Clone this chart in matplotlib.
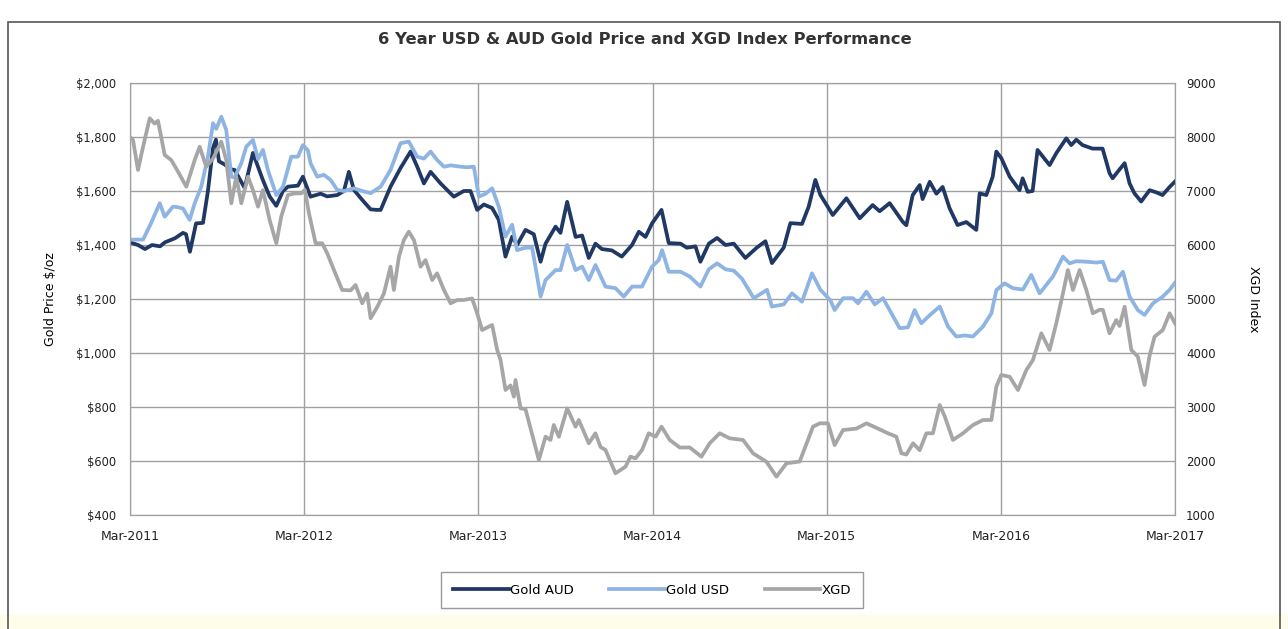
import matplotlib
matplotlib.use("Agg")
import matplotlib.pyplot as plt
from matplotlib.patches import Rectangle

# months after Mar-2011
aud_m = [0.0, 0.55, 1.03, 1.52, 2.07, 2.41, 3.10, 3.65, 3.86, 4.13, 4.55, 5.03, 5.37, 5.72, 5.92,
         6.13, 6.47, 6.98, 7.21, 7.90, 8.47, 8.82, 9.16, 9.62, 10.08, 10.54, 10.88, 11.57, 11.91,
         12.44, 13.13, 13.59, 14.28, 14.74, 15.08, 15.43, 16.00, 16.58, 17.03, 17.27, 17.95, 18.64,
         19.33, 19.79, 20.25, 20.71, 21.40, 22.31, 23.00, 23.46, 23.92, 24.38, 24.95, 25.41, 25.87,
         26.33, 26.67, 27.25, 27.82, 28.29, 28.63, 29.32, 29.66, 30.12, 30.70, 31.15, 31.61, 32.07,
         32.51, 33.20, 33.88, 34.59, 35.06, 35.52, 35.97, 36.62, 37.12, 37.93, 38.36, 38.96, 39.30,
         39.88, 40.45, 41.03, 41.60, 42.40, 43.18, 43.78, 44.23, 45.04, 45.50, 46.30, 46.76, 47.22,
         47.57, 48.00, 48.42, 49.36, 50.28, 51.17, 51.65, 52.34, 53.24, 53.49, 53.93, 54.41, 54.61,
         55.10, 55.56, 55.99, 56.47, 57.02, 57.62, 58.31, 58.54, 59.00, 59.44, 59.69, 60.03, 60.61,
         61.29, 61.50, 61.85, 62.19, 62.53, 63.36, 63.82, 64.51, 64.85, 65.20, 65.63, 66.32, 67.01,
         67.49, 67.70, 68.18, 68.53, 68.87, 69.21, 69.67, 70.25, 70.71, 71.14, 71.63, 72.0]
aud_v = [1410, 1400, 1385, 1400, 1395, 1410, 1425, 1445, 1440, 1375, 1480, 1482, 1600, 1760, 1790,
         1710, 1700, 1680, 1678, 1611, 1741, 1690, 1640, 1580, 1545, 1600, 1616, 1620, 1653,
         1579, 1590, 1580, 1585, 1600, 1671, 1604, 1567, 1532, 1530, 1530, 1616, 1685,
         1746, 1690, 1628, 1671, 1628, 1579, 1600, 1600, 1530, 1550, 1537, 1493, 1357,
         1431, 1400, 1456, 1440, 1338, 1405, 1468, 1445, 1560, 1430, 1435, 1352, 1405,
         1385, 1380, 1357, 1400, 1449, 1430, 1480, 1530, 1407, 1405, 1390, 1395, 1338,
         1405, 1426, 1400, 1405, 1352, 1390, 1414, 1333, 1390, 1481, 1478, 1542, 1641,
         1585, 1548, 1511, 1573, 1499, 1548, 1525, 1555, 1486, 1473, 1585, 1622, 1570,
         1634, 1590, 1615, 1536, 1474, 1485, 1456, 1591, 1585, 1653, 1746, 1722, 1653,
         1603, 1647, 1597, 1600, 1752, 1696, 1740, 1795, 1770, 1790, 1770, 1757, 1757,
         1666, 1647, 1680, 1703, 1628, 1591, 1561, 1603, 1595, 1585, 1615, 1635]

usd_m = [0.0, 0.90, 1.45, 2.05, 2.39, 2.96, 3.31, 3.65, 4.11, 4.46, 4.91, 5.37, 5.72, 5.94, 6.29,
         6.63, 6.98, 7.21, 7.67, 8.01, 8.47, 8.82, 9.16, 9.50, 10.08, 10.54, 11.11, 11.57, 11.91,
         12.26, 12.44, 12.90, 13.36, 13.82, 14.28, 14.74, 15.43, 16.00, 16.58, 17.27, 17.95, 18.64,
         19.21, 19.79, 20.25, 20.71, 21.16, 21.63, 22.09, 22.78, 23.23, 23.69, 24.04, 24.50, 24.95,
         25.41, 25.87, 26.33, 26.67, 27.25, 27.71, 28.29, 28.63, 29.32, 29.66, 30.12, 30.70, 31.15,
         31.61, 32.07, 32.76, 33.45, 34.02, 34.59, 35.28, 35.97, 36.43, 36.66, 37.12, 37.93, 38.57,
         39.30, 39.88, 40.45, 41.03, 41.60, 42.17, 42.98, 43.89, 44.23, 45.04, 45.61, 46.30, 46.99,
         47.57, 48.26, 48.55, 49.13, 49.81, 50.16, 50.74, 51.31, 51.88, 52.46, 53.03, 53.60, 54.06,
         54.52, 55.10, 55.79, 56.36, 56.93, 57.51, 58.08, 58.77, 59.35, 59.69, 60.26, 60.83, 61.52,
         62.10, 62.67, 63.59, 64.28, 64.74, 65.20, 65.89, 66.58, 67.03, 67.49, 67.95, 68.41, 68.87,
         69.44, 69.90, 70.48, 71.16, 71.63, 72.0]
usd_v = [1420, 1420, 1481, 1555, 1505, 1542, 1540, 1535, 1493, 1555, 1616, 1727, 1851, 1830, 1875,
         1826, 1653, 1650, 1703, 1764, 1789, 1718, 1752, 1678, 1585, 1616, 1727, 1727, 1770,
         1750, 1703, 1653, 1660, 1641, 1604, 1600, 1610, 1600, 1592, 1616, 1678, 1777,
         1783, 1727, 1720, 1746, 1715, 1690, 1695, 1690, 1688, 1690, 1579, 1590, 1610,
         1542, 1431, 1475, 1381, 1390, 1390, 1209, 1270, 1307, 1307, 1400, 1307, 1320,
         1270, 1326, 1246, 1240, 1209, 1246, 1246, 1320, 1344, 1381, 1301, 1301, 1283,
         1246, 1310, 1332, 1310, 1305, 1275, 1203, 1234, 1172, 1180, 1221, 1190, 1295,
         1234, 1195, 1159, 1203, 1203, 1184, 1227, 1180, 1203, 1147, 1092, 1095, 1159,
         1110, 1140, 1172, 1098, 1061, 1065, 1061, 1098, 1147, 1233, 1258, 1240, 1235,
         1289, 1221, 1283, 1357, 1332, 1340, 1338, 1335, 1338, 1270, 1268, 1301, 1209,
         1159, 1141, 1184, 1209, 1234, 1260]

xgd_m = [0.0, 0.21, 0.55, 0.90, 1.36, 1.70, 1.93, 2.39, 2.84, 3.31, 3.88, 4.46, 4.80, 5.25, 5.72,
         6.29, 6.63, 6.98, 7.32, 7.67, 8.13, 8.47, 8.82, 9.16, 9.62, 10.08, 10.42, 10.88, 11.34,
         11.80, 12.05, 12.33, 12.79, 13.24, 13.59, 14.05, 14.62, 15.20, 15.54, 16.00, 16.34, 16.58,
         17.03, 17.49, 17.95, 18.18, 18.53, 18.87, 19.21, 19.56, 20.02, 20.36, 20.82, 21.16, 21.63,
         22.09, 22.54, 23.00, 23.57, 23.92, 24.26, 24.95, 25.30, 25.53, 25.87, 26.22, 26.45, 26.56,
         26.91, 27.25, 28.17, 28.63, 28.97, 29.20, 29.55, 30.12, 30.70, 30.92, 31.61, 32.07, 32.42,
         32.76, 33.45, 34.14, 34.48, 34.83, 35.28, 35.74, 36.21, 36.62, 37.19, 37.88, 38.57, 39.37,
         39.94, 40.63, 41.32, 42.24, 42.93, 43.85, 44.54, 45.23, 46.14, 47.06, 47.52, 48.09, 48.55,
         49.13, 50.05, 50.74, 51.54, 52.22, 52.80, 53.15, 53.49, 53.95, 54.41, 54.87, 55.32, 55.79,
         56.13, 56.70, 57.39, 58.08, 58.77, 59.35, 59.69, 60.03, 60.61, 61.18, 61.76, 62.21, 62.79,
         63.36, 63.82, 64.28, 64.62, 64.97, 65.43, 65.89, 66.34, 66.80, 67.03, 67.49, 67.95, 68.18,
         68.53, 68.99, 69.44, 69.90, 70.25, 70.59, 71.16, 71.63, 72.0]
xgd_v = [8000, 7944, 7389, 7820, 8346, 8250, 8300, 7667, 7574, 7358, 7080, 7574, 7820, 7450, 7600,
         7913, 7574, 6772, 7265, 6772, 7265, 7017, 6710, 7017, 6463, 6032, 6525, 6926, 6956,
         6956, 7019, 6587, 6032, 6032, 5846, 5537, 5167, 5160, 5260, 4920, 5100, 4643,
         4850, 5100, 5598, 5167, 5784, 6093, 6247, 6093, 5598, 5720, 5352, 5475, 5167,
         4920, 4980, 4982, 5010, 4735, 4426, 4519, 4056, 3870, 3315, 3400, 3191, 3500,
         2975, 2960, 2019, 2450, 2390, 2667, 2450, 2975, 2635, 2760, 2328, 2512, 2260,
         2204, 1772, 1895, 2081, 2050, 2204, 2513, 2450, 2636, 2389, 2250, 2250, 2080,
         2328, 2513, 2420, 2389, 2142, 1987, 1710, 1957, 1990, 2636, 2698, 2698, 2296,
         2574, 2600, 2698, 2600, 2513, 2450, 2142, 2120, 2328, 2200, 2513, 2513, 3037,
         2830, 2389, 2513, 2667, 2759, 2759, 3377, 3593, 3560, 3315, 3685, 3870, 4364,
         4056, 4549, 5105, 5537, 5167, 5537, 5167, 4735, 4800, 4800, 4364, 4610, 4500,
         4858, 4056, 3932, 3407, 3950, 4302, 4426, 4735, 4550]

tick_labels = ["Mar-2011", "Mar-2012", "Mar-2013", "Mar-2014", "Mar-2015", "Mar-2016", "Mar-2017"]
left_ticks = [400, 600, 800, 1000, 1200, 1400, 1600, 1800, 2000]
right_ticks = [1000, 2000, 3000, 4000, 5000, 6000, 7000, 8000, 9000]

c_aud = "#1f3864"
c_usd = "#8db4e2"
c_xgd = "#a6a6a6"
grid_c = "#a0a0a0"

W, H = 1288, 629
fig = plt.figure(figsize=(W / 100, H / 100), dpi=100)
plt.rcParams['font.family'] = ['DejaVu Sans']

# outer chart frame and faint yellow band at the bottom
fig.patches.append(Rectangle((0, 0), 1, 14 / H, transform=fig.transFigure,
                             facecolor="#fdfde9", edgecolor="none", zorder=0))
fig.patches.append(Rectangle((8 / W, -0.01), (1272) / W, 1 - 22 / H + 0.01,
                             transform=fig.transFigure, facecolor="none",
                             edgecolor="#555555", linewidth=1.2, zorder=1))

ax = fig.add_axes([130 / W, 1 - 515 / H, 1045 / W, 432 / H])
ax2 = ax.twinx()

lw = 2.7
l1, = ax.plot(aud_m, aud_v, color=c_aud, linewidth=lw, label="Gold AUD", zorder=3)
l2, = ax.plot(usd_m, usd_v, color=c_usd, linewidth=lw, label="Gold USD", zorder=4)
l3, = ax2.plot(xgd_m, xgd_v, color=c_xgd, linewidth=lw, label="XGD", zorder=3)

ax.set_xlim(0, 72)
ax.set_ylim(400, 2000)
ax2.set_ylim(1000, 9000)
ax.set_xticks(range(0, 73, 12))
ax.set_xticklabels(tick_labels)
ax.set_yticks(left_ticks)
ax.set_yticklabels(["${:,}".format(t) for t in left_ticks])
ax2.set_yticks(right_ticks)
ax2.set_yticklabels([str(t) for t in right_ticks])

ax.grid(True, color=grid_c, linewidth=1)
ax.set_axisbelow(True)
for a in (ax, ax2):
    for s in a.spines.values():
        s.set_color(grid_c)
    a.tick_params(length=0, labelsize=9, colors="#222222")
ax.tick_params(axis="x", pad=11)
ax.tick_params(axis="y", pad=10, labelsize=8.3)
ax2.tick_params(axis="y", pad=8, labelsize=8.5)

ax.set_ylabel("Gold Price $/oz", fontsize=9, labelpad=14)
ax2.set_ylabel("XGD Index", fontsize=9, rotation=270, labelpad=32)

fig.text(645 / W, 1 - 40 / H, "6 Year USD & AUD Gold Price and XGD Index Performance",
         ha="center", va="center", fontsize=11.8, fontweight="bold", color="#333333")

leg = fig.legend(handles=[l1, l2, l3], loc="center", ncol=3,
                 bbox_to_anchor=(652 / W, 1 - 590 / H), fontsize=9.5,
                 frameon=True, fancybox=False, edgecolor="#808080",
                 handlelength=4.2, handletextpad=0.1, columnspacing=2.7,
                 borderpad=0.9, borderaxespad=0)
leg.get_frame().set_linewidth(1)

fig.savefig("out.png", dpi=100)
